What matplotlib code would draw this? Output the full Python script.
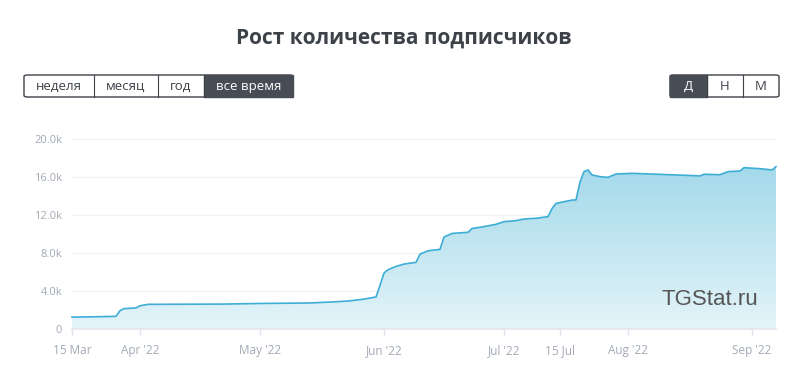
import matplotlib
matplotlib.use("Agg")
import matplotlib.pyplot as plt
import matplotlib.dates as mdates
from matplotlib.patches import Rectangle, FancyBboxPatch, PathPatch
from matplotlib.colors import LinearSegmentedColormap
import numpy as np
import pandas as pd

title = "Рост количества подписчиков"
period_buttons = ["неделя", "месяц", "год", "все время"]
scale_buttons = ["Д", "Н", "М"]

dates = ["2022-03-15", "2022-03-26", "2022-03-27", "2022-03-28", "2022-03-31", "2022-04-01",
         "2022-04-03", "2022-04-22", "2022-05-02", "2022-05-13", "2022-05-19", "2022-05-23",
         "2022-05-27", "2022-05-30", "2022-05-31", "2022-06-01", "2022-06-02", "2022-06-04",
         "2022-06-06", "2022-06-09", "2022-06-10", "2022-06-12", "2022-06-15", "2022-06-16",
         "2022-06-18", "2022-06-22", "2022-06-23", "2022-06-26", "2022-06-29", "2022-07-01",
         "2022-07-04", "2022-07-06", "2022-07-09", "2022-07-12", "2022-07-13", "2022-07-14",
         "2022-07-18", "2022-07-19", "2022-07-20", "2022-07-21", "2022-07-22", "2022-07-23",
         "2022-07-25", "2022-07-27", "2022-07-29", "2022-08-02", "2022-08-13", "2022-08-19",
         "2022-08-20", "2022-08-24", "2022-08-26", "2022-08-29", "2022-08-30", "2022-09-03",
         "2022-09-06", "2022-09-07"]
subscribers = [1250, 1330, 1930, 2150, 2220, 2450,
               2600, 2630, 2700, 2740, 2850, 2950,
               3150, 3380, 4600, 5900, 6250, 6600,
               6850, 7030, 7900, 8250, 8400, 9700,
               10080, 10200, 10600, 10800, 11040, 11320,
               11430, 11600, 11680, 11850, 12700, 13250,
               13600, 13620, 15500, 16600, 16780, 16250,
               16070, 16000, 16350, 16420, 16250, 16150,
               16320, 16280, 16600, 16670, 17020, 16910,
               16780, 17120]

tick_dates = ["2022-03-15", "2022-04-01", "2022-05-01", "2022-06-01", "2022-07-01",
              "2022-07-15", "2022-08-01", "2022-09-01"]
tick_labels = ["15 Mar", "Apr '22", "May '22", "Jun '22", "Jul '22", "15 Jul", "Aug '22", "Sep '22"]
y_ticks = [0, 4000, 8000, 12000, 16000, 20000]
y_labels = ["0", "4.0k", "8.0k", "12.0k", "16.0k", "20.0k"]

plt.rcParams['font.family'] = ['Open Sans', 'DejaVu Sans']

W, H = 794, 381
fig = plt.figure(figsize=(W / 100, H / 100), dpi=100)
fig.patch.set_facecolor("white")

x = mdates.date2num(pd.to_datetime(dates))
y = np.array(subscribers, dtype=float)

ax = fig.add_axes([72 / W, (H - 329) / H, (776 - 72) / W, (329 - 139.4) / H])
ax.set_axisbelow(True)

# gradient fill
poly = ax.fill_between(x, 0, y, color="none", lw=0)
cmap = LinearSegmentedColormap.from_list("g", ["#e4f4f9", "#a3d9ea"])
grad = np.linspace(0, 1, 256).reshape(-1, 1)
im = ax.imshow(grad, aspect="auto", cmap=cmap, origin="lower",
               extent=[x[0], x[-1], 0, y.max()], zorder=1)
clip = PathPatch(poly.get_paths()[0], transform=ax.transData, facecolor="none", edgecolor="none")
ax.add_patch(clip)
im.set_clip_path(clip)
ax.set_xlim(x[0], x[-1])
ax.set_ylim(0, 20000)

ax.plot(x, y, color="#3eaed6", lw=1.2, zorder=3, clip_on=False)

for sp in ["top", "right", "left"]:
    ax.spines[sp].set_visible(False)
ax.spines["bottom"].set_color("#e2e5ea")
ax.spines["bottom"].set_linewidth(1.2)
ax.spines["bottom"].set_zorder(2)

ax.set_yticks(y_ticks)
ax.set_yticklabels(y_labels)
ax.grid(axis="y", color="#f1f2f4", lw=0.8, zorder=0)
ax.tick_params(axis="y", length=0, pad=7, labelsize=8, labelcolor="#a3aab5")

ax.set_xticks(mdates.date2num(pd.to_datetime(tick_dates)))
ax.set_xticklabels(tick_labels)
ax.tick_params(axis="x", length=5, width=1, color="#e2e5ea", pad=6, labelsize=8.5, labelcolor="#a3aab5")

ax.text(0.974, 0.153, "TGStat.ru", transform=ax.transAxes, ha="right", va="center",
        fontsize=16, color="#555555", family=["Liberation Sans", "DejaVu Sans"], zorder=4)

# title
fig.text(403.5 / W, 1 - 38 / H, title, ha="center", va="center", fontsize=15,
         fontweight="bold", color="#3d4249")

# buttons
def px(xp, yp):
    return xp / W, 1 - yp / H

def draw_group(edges, labels, active, top=75, bottom=97):
    x0, x1 = edges[0], edges[-1]
    bx, by = px(x0, bottom)
    fig.patches.append(FancyBboxPatch((bx, by), (x1 - x0) / W, (bottom - top) / H,
                                      boxstyle="round,pad=0,rounding_size=0.004",
                                      transform=fig.transFigure, facecolor="white",
                                      edgecolor="#3d4249", lw=1.0, zorder=1))
    for i, lab in enumerate(labels):
        a, b = edges[i], edges[i + 1]
        if i == active:
            rx, ry = px(a, bottom)
            fig.patches.append(Rectangle((rx, ry), (b - a) / W, (bottom - top) / H,
                                         transform=fig.transFigure, facecolor="#474c55",
                                         edgecolor="#474c55", lw=1.0, zorder=2))
        if 0 < i:
            lx0, ly0 = px(a, top)
            lx1, ly1 = px(a, bottom)
            fig.lines.append(plt.Line2D([lx0, lx1], [ly0, ly1], transform=fig.transFigure,
                                        color="#3d4249", lw=0.8, zorder=3))
        tx, ty = px((a + b) / 2, (top + bottom) / 2 + 0.5)
        fig.text(tx, ty, lab, ha="center", va="center", fontsize=9.5,
                 color="white" if i == active else "#3d4249", zorder=4)

draw_group([24, 94, 157.7, 204.3, 293], period_buttons, 3)
draw_group([670, 706.7, 742.7, 779], scale_buttons, 0)

fig.savefig("out.png", dpi=100, facecolor="white")
